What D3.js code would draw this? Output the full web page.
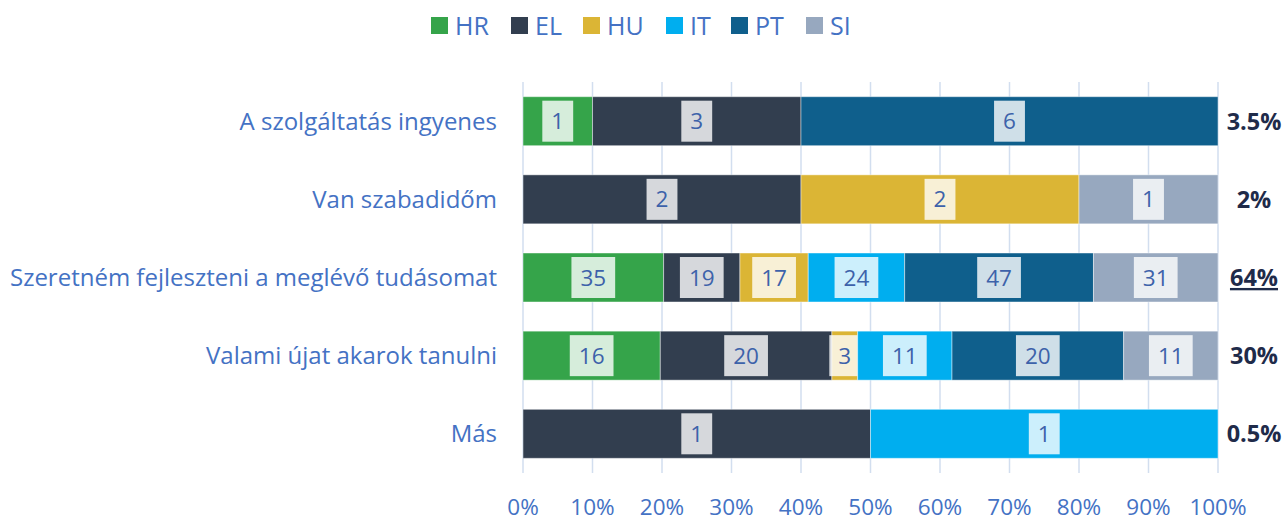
<!DOCTYPE html>
<html>
<head>
<meta charset="utf-8">
<script src="https://cdn.jsdelivr.net/npm/d3@7"></script>
<style>
  body { margin: 0; background: #fff; }
  text { font-family: "Open Sans", sans-serif; }
</style>
</head>
<body>
<div id="chart"></div>
<script>
// Chart data
var categories = ["A szolgáltatás ingyenes", "Van szabadidőm", "Szeretném fejleszteni a meglévő tudásomat", "Valami újat akarok tanulni", "Más"];
var seriesNames = ["HR", "EL", "HU", "IT", "PT", "SI"];
var hrValues = [1, 0, 35, 16, 0];
var elValues = [3, 2, 19, 20, 1];
var huValues = [0, 2, 17, 3, 0];
var itValues = [0, 0, 24, 11, 1];
var ptValues = [6, 0, 47, 20, 0];
var siValues = [0, 1, 31, 11, 0];
var totalLabels = ["3.5%", "2%", "64%", "30%", "0.5%"];
var xTicks = [0, 10, 20, 30, 40, 50, 60, 70, 80, 90, 100];

var colors = ["#35a44a", "#323e4f", "#dbb535", "#00aeef", "#0f5f8c", "#97a8bf"];
var textBlue = "#4472c4";

var svgWidth = 1284, svgHeight = 517;
var margin = { top: 82, left: 523, right: 66 };
var plotBottom = 473;

var svg = d3.select("#chart").append("svg")
  .attr("width", svgWidth)
  .attr("height", svgHeight);

// build rows of percentages
var seriesValues = [hrValues, elValues, huValues, itValues, ptValues, siValues];
var rows = categories.map(function (c, i) {
  var row = { cat: c };
  seriesNames.forEach(function (s, j) { row[s] = seriesValues[j][i]; });
  return row;
});
var stack = d3.stack().keys(seriesNames)
  .offset(d3.stackOffsetExpand);
var stacked = stack(rows);

var x = d3.scaleLinear().domain([0, 1]).range([margin.left, svgWidth - margin.right]);
var y = d3.scaleBand().domain(categories)
  .range([margin.top, plotBottom])
  .paddingInner(0.373)
  .paddingOuter(0.188);

// gridlines
svg.append("g").selectAll("line")
  .data(xTicks)
  .enter().append("line")
  .attr("x1", d => x(d / 100)).attr("x2", d => x(d / 100))
  .attr("y1", margin.top).attr("y2", plotBottom)
  .attr("stroke", "#d2deef")
  .attr("stroke-width", 1.5);

// bars
var layers = svg.append("g").selectAll("g")
  .data(stacked)
  .enter().append("g")
  .attr("fill", (d, i) => colors[i]);

layers.selectAll("rect")
  .data(d => d.map(p => ({ p: p, key: d.key })))
  .enter().append("rect")
  .attr("x", d => x(d.p[0]))
  .attr("y", d => y(d.p.data.cat))
  .attr("width", d => x(d.p[1]) - x(d.p[0]))
  .attr("height", y.bandwidth())
  .attr("stroke", "rgba(255,255,255,0.45)")
  .attr("stroke-width", 1);

// value labels in boxes
layers.each(function (layer) {
  var g = d3.select(this);
  layer.forEach(function (p) {
    var v = p.data[layer.key];
    if (!v) return;
    var cx = (x(p[0]) + x(p[1])) / 2;
    var cy = y(p.data.cat) + y.bandwidth() / 2;
    var t = g.append("text")
      .attr("x", cx).attr("y", cy)
      .attr("text-anchor", "middle")
      .attr("dy", "0.36em")
      .attr("font-size", 22.5)
      .attr("fill", "#3d62aa")
      .text(v);
    var w = t.node().getComputedTextLength() + 18;
    g.insert("rect", function () { return t.node(); })
      .attr("x", cx - w / 2).attr("y", cy - 20.5)
      .attr("width", w).attr("height", 41)
      .attr("fill", "#fff")
      .attr("fill-opacity", 0.8);
  });
});

// category labels
svg.append("g").selectAll("text")
  .data(categories)
  .enter().append("text")
  .attr("x", 497)
  .attr("y", d => y(d) + y.bandwidth() / 2)
  .attr("dy", "0.35em")
  .attr("text-anchor", "end")
  .attr("font-size", 24)
  .attr("fill", textBlue)
  .text(d => d);

// totals on the right
svg.append("g").selectAll("text")
  .data(totalLabels)
  .enter().append("text")
  .attr("x", 1254)
  .attr("y", (d, i) => y(categories[i]) + y.bandwidth() / 2)
  .attr("dy", "0.36em")
  .attr("text-anchor", "middle")
  .attr("font-size", 23.5)
  .attr("font-weight", "bold")
  .attr("fill", "#1f2b4a")
  .style("text-decoration", (d, i) => i === 2 ? "underline" : "none")
  .text(d => d);

// x axis tick labels
svg.append("g").selectAll("text")
  .data(xTicks)
  .enter().append("text")
  .attr("x", d => x(d / 100))
  .attr("y", 507)
  .attr("dy", "0.36em")
  .attr("text-anchor", "middle")
  .attr("font-size", 22.5)
  .attr("fill", textBlue)
  .text(d => d + "%");

// legend
var legendX = [431, 511, 583, 666, 731, 806];
var legend = svg.append("g").selectAll("g")
  .data(seriesNames)
  .enter().append("g")
  .attr("transform", (d, i) => `translate(${legendX[i]}, 17)`);
legend.append("rect")
  .attr("width", 17).attr("height", 17)
  .attr("fill", (d, i) => colors[i]);
legend.append("text")
  .attr("x", 24).attr("y", 8.5)
  .attr("dy", "0.36em")
  .attr("font-size", 25)
  .attr("fill", textBlue)
  .text(d => d);
</script>
</body>
</html>
